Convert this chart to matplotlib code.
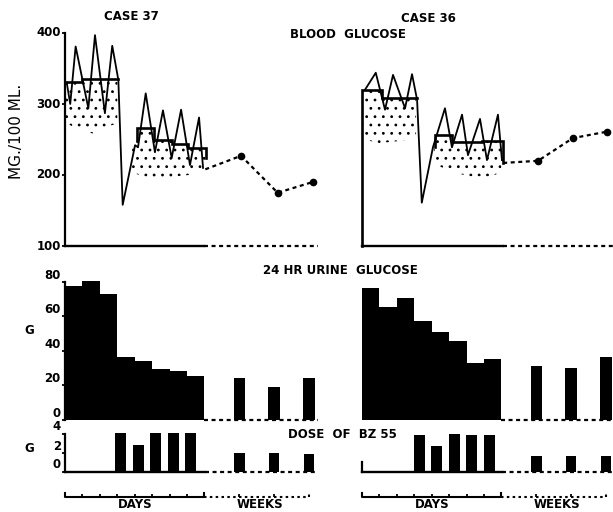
import numpy as np
import matplotlib
matplotlib.use('Agg')
import matplotlib.pyplot as plt

plt.rcParams['font.family'] = 'DejaVu Sans'
plt.rcParams['hatch.linewidth'] = 0.8

W, H = 613, 512
DAY_PX = 17.43          # pixels per day on the time axis
X0 = {37: 65, 36: 362}  # pixel where day 0 sits for each case
XLIM = (-0.5, 14.6)
WEEKS = [10, 12, 14]
DASH = (0, (1.8, 1.6))

## Blood glucose (mg/100 ml)
# single readings
thin37_x = [0.1, 0.3, 0.61, 1.34, 1.72, 2.29, 2.71, 3.06, 3.31, 4.02, 4.19, 4.63,
            5.16, 5.62, 6.12, 6.66, 7.17, 7.69, 7.92]
thin37_y = [330, 300, 381, 294, 397, 287, 382, 334, 158, 242, 239, 315,
            232, 291, 224, 292, 214, 281, 210]
thin36_x = [0.17, 0.79, 1.32, 1.78, 2.47, 2.87, 3.16, 3.43, 4.07, 4.76, 5.16,
            5.74, 6.08, 6.77, 7.17, 7.80, 8.03]
thin36_y = [320, 344, 292, 341, 294, 342, 306, 161, 239, 294, 239,
            285, 228, 279, 221, 285, 221]
# daily means
step37a_edges = [0, 0.98, 3.04]
step37a_vals = [331, 335]
step37b_edges = [4.13, 5.11, 6.14, 7.06, 8.09]
step37b_vals = [266, 249, 244, 238]
step36a_edges = [0, 1.15, 3.16]
step36a_vals = [320, 308]
step36b_edges = [4.19, 5.15, 6.0, 6.86, 8.1]
step36b_vals = [256, 247, 246, 248]
# daily range (stippled)
shade37a_x = [0.05, 0.98, 0.98, 3.0, 3.0, 2.3, 1.7, 1.0, 0.05]
shade37a_y = [331, 331, 335, 335, 272, 268, 258, 262, 273]
shade37b_x = [3.85, 4.13, 4.13, 5.11, 5.11, 6.14, 6.14, 7.06, 7.06, 8.05,
              8.05, 7.1, 6.3, 5.5, 4.9, 3.85]
shade37b_y = [240, 249, 266, 266, 249, 249, 244, 244, 238, 238,
              207, 200, 198, 193, 196, 203]
shade36a_x = [0.1, 1.15, 1.15, 3.1, 3.1, 2.2, 1.0, 0.1]
shade36a_y = [320, 320, 308, 308, 252, 248, 245, 250]
shade36b_x = [4.1, 4.19, 4.19, 5.15, 5.15, 6.0, 6.0, 6.86, 6.86, 8.0,
              8.0, 7.4, 6.3, 5.3, 4.2]
shade36b_y = [239, 239, 256, 256, 247, 247, 246, 246, 248, 248,
              204, 198, 198, 203, 215]
# weekly follow-up
wk37_x = [8.05, 10.1, 12.2, 14.2]
wk37_y = [208, 227, 175, 190]
wk36_x = [8.1, 10.1, 12.1, 14.05]
wk36_y = [217, 220, 252, 261]

## 24 hr urine glucose (g)
urine37_days = [77.5, 80.6, 72.9, 36.6, 34.3, 29.5, 28.5, 25.6]
urine37_weeks = [24.3, 19.0, 24.3]
urine36_days = [76.2, 65.5, 70.7, 57.4, 51.1, 45.9, 32.8, 35.3]
urine36_weeks = [31.4, 30.3, 36.6]

## Dose of BZ 55 (g)
dose37_x = [3.2, 4.2, 5.2, 6.2, 7.2]
dose37_days = [4.1, 2.8, 4.1, 4.1, 4.1]
dose37_weeks = [1.9, 1.9, 1.8]
dose36_x = [3.3, 4.3, 5.3, 6.3, 7.3]
dose36_days = [3.8, 2.7, 3.9, 3.8, 3.8]
dose36_weeks = [1.6, 1.6, 1.6]

fig = plt.figure(figsize=(W / 100, H / 100), dpi=100)


def panel(case, ycal, ylim):
    # ycal = (v0, py0, v1, py1): two values and their pixel rows
    v0, p0, v1, p1 = ycal
    s = (p1 - p0) / (v1 - v0)
    left = X0[case] + XLIM[0] * DAY_PX
    right = X0[case] + XLIM[1] * DAY_PX
    top = p0 + (ylim[1] - v0) * s
    bottom = p0 + (ylim[0] - v0) * s
    ax = fig.add_axes([left / W, 1 - bottom / H, (right - left) / W, (bottom - top) / H])
    ax.set_xlim(XLIM)
    ax.set_ylim(ylim)
    ax.patch.set_alpha(0)
    for sp in ax.spines.values():
        sp.set_visible(False)
    ax.set_xticks([])
    ax.set_yticks([])
    return ax


def left_axis(ax, ticks, lo, hi, va):
    ax.spines['left'].set_visible(True)
    ax.spines['left'].set_position(('data', 0))
    ax.spines['left'].set_bounds(lo, hi)
    ax.spines['left'].set_linewidth(1.6)
    ax.set_yticks(ticks)
    ax.set_yticklabels([str(t) for t in ticks])
    ax.tick_params(axis='y', length=2.5, width=1.3, pad=0.5, labelsize=8.5)
    for lab in ax.get_yticklabels():
        lab.set_fontweight('bold')
        lab.set_va(va)


def steps(ax, edges, vals, start=None, end=None):
    xs = list(np.repeat(edges, 2)[1:-1])
    ys = list(np.repeat(vals, 2))
    if start is not None:
        xs, ys = [edges[0]] + xs, [start] + ys
    if end is not None:
        xs, ys = xs + [edges[-1]], ys + [end]
    ax.plot(xs, ys, color='black', lw=1.9, solid_joinstyle='miter')


def stipple(ax, xs, ys):
    ax.fill(xs, ys, facecolor='none', edgecolor='black', linewidth=0, hatch='..')


def baseline(ax, y, solid_end):
    ax.plot([0, solid_end], [y, y], color='black', lw=1.7)
    ax.plot([solid_end, 14.5], [y, y], color='black', lw=1.6, ls=DASH)


# blood glucose
for case in (37, 36):
    ax = panel(case, (100, 246, 400, 33), (80, 420))
    if case == 37:
        left_axis(ax, [100, 200, 300, 400], 100, 400, 'center')
        stipple(ax, shade37a_x, shade37a_y)
        stipple(ax, shade37b_x, shade37b_y)
        steps(ax, step37a_edges, step37a_vals)
        steps(ax, step37b_edges, step37b_vals, start=249, end=224)
        ax.plot(thin37_x, thin37_y, color='black', lw=1.3)
        ax.plot(wk37_x, wk37_y, color='black', lw=1.6, ls=DASH)
        ax.plot(wk37_x[1:], wk37_y[1:], 'o', color='black', ms=4.5)
        baseline(ax, 100, 8.0)
    else:
        stipple(ax, shade36a_x, shade36a_y)
        stipple(ax, shade36b_x, shade36b_y)
        steps(ax, step36a_edges, step36a_vals, start=100)
        steps(ax, step36b_edges, step36b_vals, start=239, end=217)
        ax.plot(thin36_x, thin36_y, color='black', lw=1.3)
        ax.plot(wk36_x, wk36_y, color='black', lw=1.6, ls=DASH)
        ax.plot(wk36_x[1:], wk36_y[1:], 'o', color='black', ms=4.5)
        baseline(ax, 100, 8.1)

# urine glucose
for case, days, weeks in ((37, urine37_days, urine37_weeks), (36, urine36_days, urine36_weeks)):
    ax = panel(case, (0, 420, 80, 281.7), (-4, 84))
    ax.bar(np.arange(8) + 0.5, days, width=1.0, color='black', linewidth=0)
    ax.bar(WEEKS, weeks, width=0.66, color='black', linewidth=0)
    ax.plot([8, 14.5], [0, 0], color='black', lw=1.6, ls=DASH)
    if case == 37:
        left_axis(ax, [0, 20, 40, 60, 80], 0, 80, 'bottom')

# dose
for case, xs, days, weeks in ((37, dose37_x, dose37_days, dose37_weeks),
                              (36, dose36_x, dose36_days, dose36_weeks)):
    ax = panel(case, (0, 471.5, 4, 433.5), (-0.6, 4.6))
    ax.bar(xs, days, width=0.63, color='black', linewidth=0)
    ax.bar(WEEKS, weeks, width=0.6, color='black', linewidth=0)
    baseline(ax, 0, 8.05)
    if case == 37:
        left_axis(ax, [0, 2, 4], 0, 4, 'bottom')
    else:
        ax.plot([0, 0], [0, 1], color='black', lw=1.6)

# time scale brackets
for case in (37, 36):
    ax = panel(case, (0, 497, 1, 493), (-3.75, 1.5))
    ax.plot([0, 0, 8, 8], [1, 0, 0, 1], color='black', lw=1.5)
    ax.plot([8, 14, 14], [0, 0, 1], color='black', lw=1.5, ls=(0, (1.2, 1.6)))
    ax.vlines(np.arange(1, 8), 0, 0.7, color='black', lw=1.3)
    ax.vlines(WEEKS[:2], 0, 0.7, color='black', lw=1.3)
    ax.text(4, -1.75, 'DAYS', ha='center', va='center', fontsize=8.5, fontweight='bold')
    ax.text(11.2, -1.75, 'WEEKS', ha='center', va='center', fontsize=8.5, fontweight='bold')


def label(x, y, s, **kw):
    kw.setdefault('fontsize', 8.5)
    kw.setdefault('fontweight', 'bold')
    fig.text(x / W, 1 - y / H, s, ha='center', va='center', **kw)


label(131, 17, 'CASE 37')
label(428, 19, 'CASE 36')
label(348, 35, 'BLOOD  GLUCOSE')
label(17, 131, 'MG./100 ML.', rotation=90, fontsize=11, fontweight='normal')
label(340, 270, '24 HR URINE  GLUCOSE')
label(29, 330, 'G')
label(342, 435, 'DOSE  OF  BZ 55')
label(29, 449, 'G')

fig.savefig('out.png', dpi=100)
